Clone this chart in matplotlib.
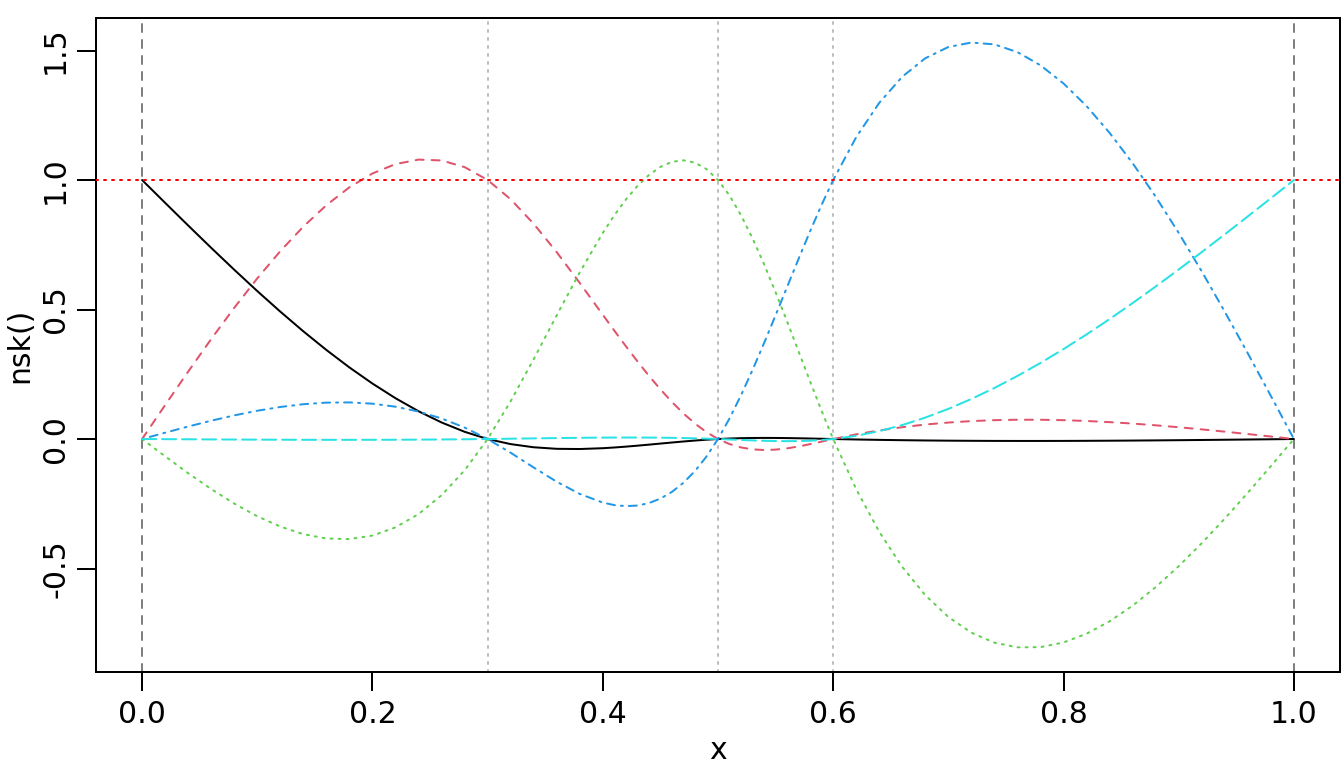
import matplotlib
matplotlib.use("Agg")
import matplotlib.pyplot as plt

# x grid (values at these positions; finer around the knots 0.4-0.6)
x = [0.00, 0.02, 0.04, 0.06, 0.08, 0.10, 0.12, 0.14, 0.16, 0.18,
     0.20, 0.22, 0.24, 0.26, 0.28, 0.30, 0.32, 0.34, 0.36, 0.38,
     0.40, 0.41, 0.42, 0.43, 0.44, 0.45, 0.46, 0.47, 0.48, 0.49,
     0.50, 0.51, 0.52, 0.53, 0.54, 0.55, 0.56, 0.57, 0.58, 0.59,
     0.60, 0.62, 0.64, 0.66, 0.68, 0.70, 0.72, 0.74, 0.76, 0.78,
     0.80, 0.82, 0.84, 0.86, 0.88, 0.90, 0.92, 0.94, 0.96, 0.98, 1.00]

basis1 = [1.0, 0.91197, 0.82452, 0.73821, 0.65362, 0.57131, 0.49187, 0.41586, 0.34385, 0.27642,
          0.21414, 0.15758, 0.10732, 0.06392, 0.02795, 0.0, -0.01966, -0.03188, -0.03783, -0.03863,
          -0.03546, -0.03273, -0.02944, -0.02573, -0.02174, -0.01761, -0.01350, -0.00954, -0.00587, -0.00264,
          0.0, 0.00195, 0.00326, 0.00400, 0.00425, 0.00409, 0.00361, 0.00288, 0.00198, 0.00099,
          0.0, -0.00180, -0.00332, -0.00457, -0.00559, -0.00636, -0.00692, -0.00728, -0.00745, -0.00744,
          -0.00727, -0.00696, -0.00652, -0.00596, -0.00529, -0.00455, -0.00372, -0.00284, -0.00192, -0.00097, 0.0]

basis2 = [0.0, 0.13093, 0.26013, 0.38589, 0.50649, 0.62020, 0.72531, 0.82009, 0.90282, 0.97178,
          1.02525, 1.06151, 1.07884, 1.07551, 1.04980, 1.0, 0.92558, 0.83084, 0.72125, 0.60233,
          0.47955, 0.41843, 0.35840, 0.30016, 0.24438, 0.19176, 0.14298, 0.09873, 0.05969, 0.02655,
          0.0, -0.01953, -0.03258, -0.03996, -0.04247, -0.04091, -0.03607, -0.02876, -0.01978, -0.00993,
          0.0, 0.0180, 0.0332, 0.0457, 0.0559, 0.0636, 0.0692, 0.0728, 0.0745, 0.0744,
          0.0727, 0.0696, 0.0652, 0.0596, 0.0529, 0.0455, 0.0372, 0.0284, 0.0192, 0.0097, 0.0]

basis3 = [0.0, -0.06679, -0.13180, -0.19322, -0.24928, -0.29818, -0.33814, -0.36736, -0.38406, -0.38644,
          -0.37273, -0.34112, -0.28983, -0.21708, -0.12106, 0.0, 0.14592, 0.30857, 0.47785, 0.64367,
          0.79591, 0.86379, 0.92448, 0.97673, 1.01928, 1.05086, 1.07020, 1.07605, 1.06714, 1.04221,
          1.0, 0.93990, 0.86388, 0.77461, 0.67471, 0.56682, 0.45359, 0.33765, 0.22164, 0.10822,
          0.0, -0.19399, -0.35818, -0.49405, -0.60323, -0.68727, -0.74775, -0.78624, -0.80431, -0.80352,
          -0.78545, -0.75168, -0.70377, -0.64329, -0.57181, -0.49091, -0.40215, -0.30711, -0.20736, -0.10447, 0.0]

basis4 = [0.0, 0.02444, 0.04822, 0.07069, 0.09120, 0.10909, 0.12371, 0.13440, 0.14051, 0.14138,
          0.13636, 0.12480, 0.10604, 0.07942, 0.04429, 0.0, -0.05302, -0.10996, -0.16495, -0.21207,
          -0.24545, -0.25515, -0.25920, -0.25687, -0.24742, -0.23011, -0.20422, -0.16900, -0.12371, -0.06762,
          0.0, 0.07942, 0.16902, 0.26669, 0.37033, 0.47784, 0.58713, 0.69609, 0.80262, 0.90462,
          1.0, 1.16556, 1.29796, 1.39895, 1.47025, 1.51364, 1.53084, 1.52360, 1.49367, 1.44280,
          1.37273, 1.28520, 1.18196, 1.06476, 0.93535, 0.79545, 0.64684, 0.49124, 0.33040, 0.16607, 0.0]

basis5 = [0.0, -0.00054, -0.00107, -0.00157, -0.00203, -0.00242, -0.00275, -0.00299, -0.00312, -0.00314,
          -0.00303, -0.00277, -0.00236, -0.00176, -0.00098, 0.0, 0.00118, 0.00244, 0.00367, 0.00471,
          0.00545, 0.00567, 0.00576, 0.00571, 0.00550, 0.00511, 0.00454, 0.00376, 0.00275, 0.00150,
          0.0, -0.00174, -0.00358, -0.00533, -0.00681, -0.00784, -0.00825, -0.00785, -0.00646, -0.00390,
          0.0, 0.01228, 0.03036, 0.05393, 0.08271, 0.11636, 0.15460, 0.19712, 0.24361, 0.29376,
          0.34727, 0.40384, 0.46316, 0.52492, 0.58881, 0.65455, 0.72180, 0.79028, 0.85968, 0.92969, 1.0]

internal_knots = [0.3, 0.5, 0.6]
boundary_knots = [0.0, 1.0]
hline_y = 1.0

x_ticks = [0.0, 0.2, 0.4, 0.6, 0.8, 1.0]
x_tick_labels = ["0.0", "0.2", "0.4", "0.6", "0.8", "1.0"]
y_ticks = [-0.5, 0.0, 0.5, 1.0, 1.5]
y_tick_labels = ["-0.5", "0.0", "0.5", "1.0", "1.5"]

series = [basis1, basis2, basis3, basis4, basis5]
colors = ["#000000", "#DF536B", "#61D04F", "#2297E6", "#28E2E5"]
dash_styles = [None, (0, (4, 4)), (0, (1, 3)), (0, (1, 3, 4, 3)), (0, (7, 3))]

plt.rcParams['font.family'] = ['DejaVu Sans']
fig = plt.figure(figsize=(13.44, 7.68), dpi=100)
ax = fig.add_axes([96 / 1344, 1 - 671.6 / 768, (1340 - 96) / 1344, (671.6 - 18.4) / 768])

lw = 1.44  # ~2 px
fs = 21.5

for yv, c, ds in zip(series, colors, dash_styles):
    if ds is None:
        ax.plot(x, yv, color=c, lw=lw, solid_capstyle='round', solid_joinstyle='round', zorder=3)
    else:
        ax.plot(x, yv, color=c, lw=lw, linestyle=ds, dash_capstyle='round', zorder=3)

for k in internal_knots:
    ax.axvline(k, color="#BEBEBE", lw=lw, linestyle=(0, (1, 3)), dash_capstyle='round', zorder=2)
for k in boundary_knots:
    ax.axvline(k, color="#7F7F7F", lw=lw, linestyle=(0, (4, 4)), dash_capstyle='round', zorder=2)
ax.axhline(hline_y, color="#FF0000", lw=lw, linestyle=(0, (1, 3)), dash_capstyle='round', zorder=4)

ax.set_xlim(-0.04, 1.04)
ax.set_ylim(-0.898, 1.624)

ax.set_xticks(x_ticks)
ax.set_xticklabels(x_tick_labels)
ax.set_yticks(y_ticks)
ax.set_yticklabels(y_tick_labels, rotation=90, va='center')

ax.tick_params(axis='both', length=13.7, width=1.44, labelsize=fs, color='black')
ax.tick_params(axis='x', pad=6.5)
ax.tick_params(axis='y', pad=5)

for sp in ax.spines.values():
    sp.set_linewidth(1.44)
    sp.set_color('black')

ax.set_xlabel("x", fontsize=fs)
ax.set_ylabel("nsk()", fontsize=fs)
ax.xaxis.set_label_coords(0.5, (671.6 - 736) / (671.6 - 18.4))
ax.yaxis.set_label_coords((34 - 96) / 1244, 0.5)

fig.savefig("out.png", dpi=100)
